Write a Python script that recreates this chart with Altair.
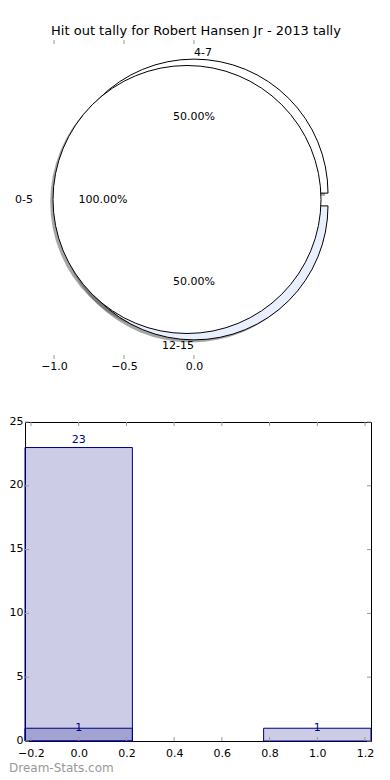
import math
import altair as alt
import pandas as pd

# ---------------- data ----------------
TITLE = "Hit out tally for Robert Hansen Jr - 2013 tally"
slice_labels = ["0-5", "4-7", "12-15"]
slice_pcts = [100.0, 50.0, 50.0]
slice_pie = ["first", "second", "second"]
slice_colors = ["white", "white", "#e9effd"]
top_x_ticks = [-1.0, -0.5, 0.0]

bar_series = ["a", "a", "b"]
bar_x = [0, 1, 0]
bar_vals = [23, 1, 1]
bar_x_ticks = [-0.2, 0.0, 0.2, 0.4, 0.6, 0.8, 1.0, 1.2]
bar_y_ticks = [0, 5, 10, 15, 20, 25]
WATERMARK = "Dream-Stats.com"

FONT = "DejaVu Sans"
EXPLODE = 0.05
LABEL_DIST = 1.1
PCT_DIST = 0.6
SHADOW = -0.02
R_PX = 134
BAR_WIDTH = 0.45

# ---------------- pie geometry (matplotlib-like) ----------------
pie = pd.DataFrame({"label": slice_labels, "pct": slice_pcts, "pie": slice_pie})
pie["end"] = pie.groupby("pie")["pct"].cumsum()
pie["start"] = pie["end"] - pie["pct"]
a1 = pie["start"] * 3.6
a2 = pie["end"] * 3.6
mid = (a1 + a2) / 2.0
cosm = mid.apply(lambda d: math.cos(math.radians(d)))
sinm = mid.apply(lambda d: math.sin(math.radians(d)))
pie["cx"] = EXPLODE * cosm
pie["cy"] = EXPLODE * sinm
pie["sx"] = pie["cx"] + SHADOW
pie["sy"] = pie["cy"] + SHADOW
pie["theta"] = (90 - a2).apply(math.radians)
pie["theta2"] = (90 - a1).apply(math.radians)
pie["lx"] = pie["cx"] + LABEL_DIST * cosm
pie["ly"] = pie["cy"] + LABEL_DIST * sinm
pie["px"] = pie["cx"] + PCT_DIST * cosm
pie["py"] = pie["cy"] + PCT_DIST * sinm
pie["side"] = ["left" if c > 0 else "right" for c in cosm]
pie["pct_text"] = pie["pct"].map(lambda v: f"{v:.2f}%")

TW, TH = 342, 319
PX_PER_UNIT = 140.0
ORIGIN_TO_ZERO = 169.0
xs_top = alt.Scale(domain=[-ORIGIN_TO_ZERO / PX_PER_UNIT, (TW - ORIGIN_TO_ZERO) / PX_PER_UNIT],
                   nice=False, zero=False)
ys_top = alt.Scale(domain=[-1.25, 1.25], nice=False, zero=False)
color_scale = alt.Scale(domain=slice_labels, range=slice_colors)

AX_TOP = alt.Axis(values=top_x_ticks, format=".1f", domain=False, ticks=False, grid=False,
                  labelPadding=1, labelFontSize=11, labelFont=FONT, labelColor="black",
                  title=None)


def tx(field):
    return alt.X(field, scale=xs_top, axis=AX_TOP)


def ty(field):
    return alt.Y(field, scale=ys_top, axis=None)


base = alt.Chart(pie)

shadows = base.mark_arc(radius=R_PX, fill="#4d4d4d", fillOpacity=0.5, stroke=None).encode(
    x=tx("sx:Q"), y=ty("sy:Q"),
    theta=alt.Theta("theta:Q", scale=None), theta2="theta2:Q",
)


def wedges(pie_name):
    return base.transform_filter(alt.datum.pie == pie_name).mark_arc(
        radius=R_PX, stroke="black", strokeWidth=1
    ).encode(
        x=tx("cx:Q"), y=ty("cy:Q"),
        theta=alt.Theta("theta:Q", scale=None), theta2="theta2:Q",
        fill=alt.Fill("label:N", scale=color_scale, legend=None),
    )


def side_labels(side):
    return base.transform_filter(alt.datum.side == side).mark_text(
        align=side, baseline="middle", fontSize=11, font=FONT, color="black"
    ).encode(x=tx("lx:Q"), y=ty("ly:Q"), text="label:N")


pct_labels = base.mark_text(align="center", baseline="middle", fontSize=11, font=FONT,
                            color="black").encode(
    x=tx("px:Q"), y=ty("py:Q"), text="pct_text:N")

tt = alt.Chart(pd.DataFrame({"t": top_x_ticks}))
top_ticks_a = tt.mark_rule(color="#999999", strokeWidth=1).encode(
    x=tx("t:Q"), y=alt.value(0), y2=alt.value(4))
top_ticks_b = tt.mark_rule(color="#999999", strokeWidth=1).encode(
    x=tx("t:Q"), y=alt.value(TH - 4), y2=alt.value(TH))

top = alt.layer(
    shadows, wedges("second"), wedges("first"), side_labels("left"), side_labels("right"),
    pct_labels, top_ticks_a, top_ticks_b,
).properties(
    width=TW, height=TH,
    title=alt.TitleParams(TITLE, fontSize=13, font=FONT, fontWeight="normal", color="black",
                          anchor="middle", offset=2),
    view=alt.ViewBackground(stroke=None),
)

# ---------------- bar chart ----------------
BW, BH = 346, 319
bars_df = pd.DataFrame({"series": bar_series, "x": bar_x, "value": bar_vals})
xs_bot = alt.Scale(domain=[-0.225, 1.225], nice=False, zero=False)
ys_bot = alt.Scale(domain=[0, 25], nice=False)
AX_BX = alt.Axis(values=bar_x_ticks, format=".1f", domain=False, ticks=False, grid=False,
                 labelPadding=6, labelFontSize=11, labelFont=FONT, labelColor="black",
                 title=None)
AX_BY = alt.Axis(values=bar_y_ticks, format="d", domain=False, ticks=False, grid=False,
                 labelPadding=2, labelOffset=-1, labelFontSize=11, labelFont=FONT,
                 labelColor="black", title=None)


def bx(field):
    return alt.X(field, scale=xs_bot, axis=AX_BX)


def by(field):
    return alt.Y(field, scale=ys_bot, axis=AX_BY)


bb = alt.Chart(bars_df).transform_calculate(
    x0=f"datum.x - {BAR_WIDTH / 2}", x1=f"datum.x + {BAR_WIDTH / 2}", zero="0",
    ly="datum.value * 1.025",
)
bars = bb.mark_rect(fill="navy", fillOpacity=0.2, stroke="navy", strokeWidth=1).encode(
    x=bx("x0:Q"), x2="x1:Q", y=by("value:Q"), y2="zero:Q",
)
bar_text = bb.mark_text(color="navy", fontSize=11, font=FONT, baseline="middle",
                        align="center").encode(
    x=bx("x:Q"), y=by("ly:Q"), text="value:Q",
)
bxt = alt.Chart(pd.DataFrame({"t": bar_x_ticks}))
byt = alt.Chart(pd.DataFrame({"t": bar_y_ticks}))
tick_color = "#999999"
bx_ticks_bottom = bxt.mark_rule(color=tick_color).encode(
    x=bx("t:Q"), y=alt.value(BH - 4), y2=alt.value(BH))
bx_ticks_top = bxt.mark_rule(color=tick_color).encode(
    x=bx("t:Q"), y=alt.value(0), y2=alt.value(4))
by_ticks_left = byt.mark_rule(color=tick_color).encode(
    y=by("t:Q"), x=alt.value(0), x2=alt.value(4))
by_ticks_right = byt.mark_rule(color=tick_color).encode(
    y=by("t:Q"), x=alt.value(BW - 4), x2=alt.value(BW))

bottom = alt.layer(
    bars, bar_text, bx_ticks_bottom, bx_ticks_top, by_ticks_left, by_ticks_right
).properties(
    width=BW, height=BH,
    title=alt.TitleParams(WATERMARK, orient="bottom", anchor="start", frame="bounds",
                          fontSize=12, font=FONT, fontWeight="normal", color="#999999",
                          offset=5),
    view=alt.ViewBackground(stroke="black", strokeWidth=1),
)

chart = alt.vconcat(top, bottom, spacing=43).properties(
    padding={"top": 16, "left": 0, "right": 0, "bottom": 0}
).configure_view(stroke=None)

chart.save("out.html", embed_options={"renderer": "svg", "actions": False})
